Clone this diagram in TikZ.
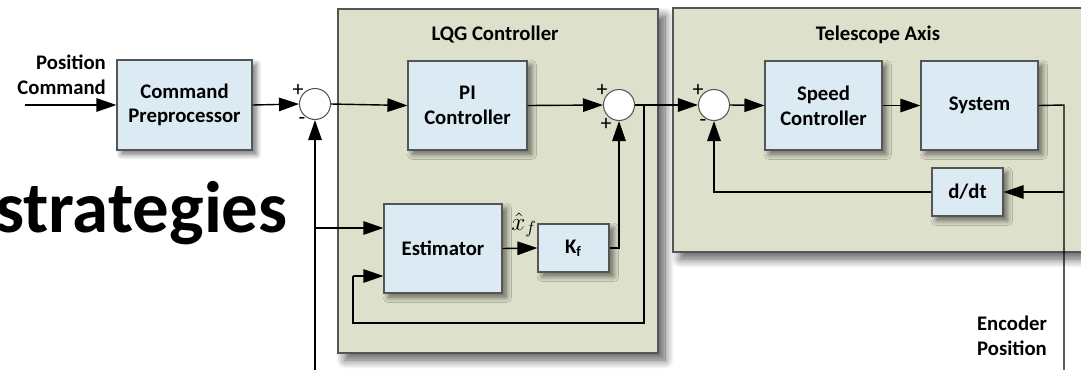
\documentclass[tikz,border=0pt]{standalone}
\usepackage{fontspec}
\setmainfont{Carlito}
\usetikzlibrary{arrows.meta,shadows.blur}
\definecolor{blockfill}{HTML}{DCEBF3}
\definecolor{groupfill}{HTML}{DDE0CA}
\definecolor{edge}{HTML}{555555}
\tikzset{
  lbl/.style={font=\fontsize{11.8}{14}\selectfont\bfseries, align=center},
  blk/.style={lbl, draw=edge, line width=0.7pt, fill=blockfill, inner sep=0pt,
    blur shadow={shadow xshift=2.5pt, shadow yshift=-2.5pt, shadow blur radius=3pt, shadow blur steps=8, shadow opacity=55}},
  grp/.style={draw=edge, line width=0.7pt, fill=groupfill, inner sep=0pt,
    blur shadow={shadow xshift=4pt, shadow yshift=-4pt, shadow blur radius=5pt, shadow blur steps=10, shadow opacity=65}},
  sumc/.style={circle, draw=edge, line width=0.6pt, fill=white, minimum size=0.62cm, inner sep=0pt},
  sgn/.style={font=\fontsize{12.5}{12.5}\selectfont, inner sep=0pt},
  wire/.style={line width=0.8pt},
  arr/.style={wire, -{Triangle[length=0.4cm, width=0.27cm]}},
}
\begin{document}
\begin{tikzpicture}[x=0.02cm, y=-0.02cm]
\useasboundingbox (0,0) rectangle (1081,369);
\clip (0,0) rectangle (1081,369);

% large heading fragment on the left
\node[anchor=base east, font=\fontsize{41.5}{44}\selectfont\bfseries, inner sep=0pt] (head) at (288,232) {strategies};

% group frames
\node[grp, minimum width=6.4cm, minimum height=6.88cm] (lqg) at (498,181) {};
\node[grp, minimum width=8.4cm, minimum height=4.88cm] (tel) at (883,130) {};
\node[lbl] (lqgt) at (495,35) {LQG Controller};
\node[lbl] (telt) at (878,35) {Telescope Axis};

% blocks
\node[blk, minimum width=2.7cm, minimum height=1.8cm] (pre) at (184.5,105) {Command\\Preprocessor};
\node[blk, minimum width=2.38cm, minimum height=1.78cm] (pi) at (467.5,105.5) {PI\\Controller};
\node[blk, minimum width=2.36cm, minimum height=1.78cm] (est) at (443,248.5) {Estimator};
\node[blk, minimum width=1.42cm, minimum height=0.96cm] (kf) at (573.5,248) {K\textsubscript{f}};
\node[blk, minimum width=2.34cm, minimum height=1.78cm] (spd) at (823.5,105.5) {Speed\\Controller};
\node[blk, minimum width=2.34cm, minimum height=1.78cm] (sys) at (979.5,105.5) {System};
\node[blk, minimum width=1.42cm, minimum height=0.96cm] (ddt) at (967.5,192) {d/dt};

% summing junctions
\node[sumc] (s1) at (315,104) {};
\node[sgn] (s1p) at (298,90) {+};
\node[sgn] (s1m) at (302,121) {-};
\node[sumc] (s2) at (619,105) {};
\node[sgn] (s2p) at (602,90) {+};
\node[sgn] (s2q) at (606,124) {+};
\node[sumc] (s3) at (714,105) {};
\node[sgn] (s3p) at (698,90) {+};
\node[sgn] (s3m) at (703,123) {-};

% outer labels
\node[lbl, anchor=east] (poslbl) at (112,62) {Position};
\node[lbl, anchor=east] (cmdlbl) at (112,87) {Command};
\node[lbl] (enc1) at (1012,323) {Encoder};
\node[lbl] (enc2) at (1012,348) {Position};
\node[font=\fontsize{14}{14}\selectfont] (xh) at (524,225) {$\hat{x}_f$};

% junction and corner points
\coordinate (in) at (25,105);
\coordinate (fbbot) at (315,375);
\coordinate (fbtap) at (315,228);
\coordinate (obs) at (644,105);
\coordinate (obsA) at (644,323);
\coordinate (obsB) at (353,323);
\coordinate (obsC) at (353,276);
\coordinate (kfr) at (619,248);
\coordinate (sysr) at (1064,105);
\coordinate (ddtr) at (1064,192);
\coordinate (encbot) at (1064,375);
\coordinate (ddtl) at (714,192);

% signal paths
\draw[arr] (in) -- (pre.west);
\draw[arr] (pre.east) -- (s1.west);
\draw[arr] (fbbot) -- (s1.south);
\draw[arr] (fbtap) -- (fbtap -| est.west);
\draw[arr] (s1.east) -- (pi.west);
\draw[arr] (pi.east) -- (s2.west);
\draw[arr] (est.east) -- (kf.west);
\draw[arr] (kf.east) -- (kfr) -- (s2.south);
\draw[arr] (s2.east) -- (s3.west);
\draw[wire] (obs) -- (obsA) -- (obsB) -- (obsC);
\draw[arr] (obsC) -- (obsC -| est.west);
\draw[arr] (s3.east) -- (spd.west);
\draw[arr] (spd.east) -- (sys.west);
\draw[wire] (sys.east) -- (sysr) -- (encbot);
\draw[arr] (ddtr) -- (ddt.east);
\draw[arr] (ddt.west) -- (ddtl) -- (s3.south);
\end{tikzpicture}
\end{document}
